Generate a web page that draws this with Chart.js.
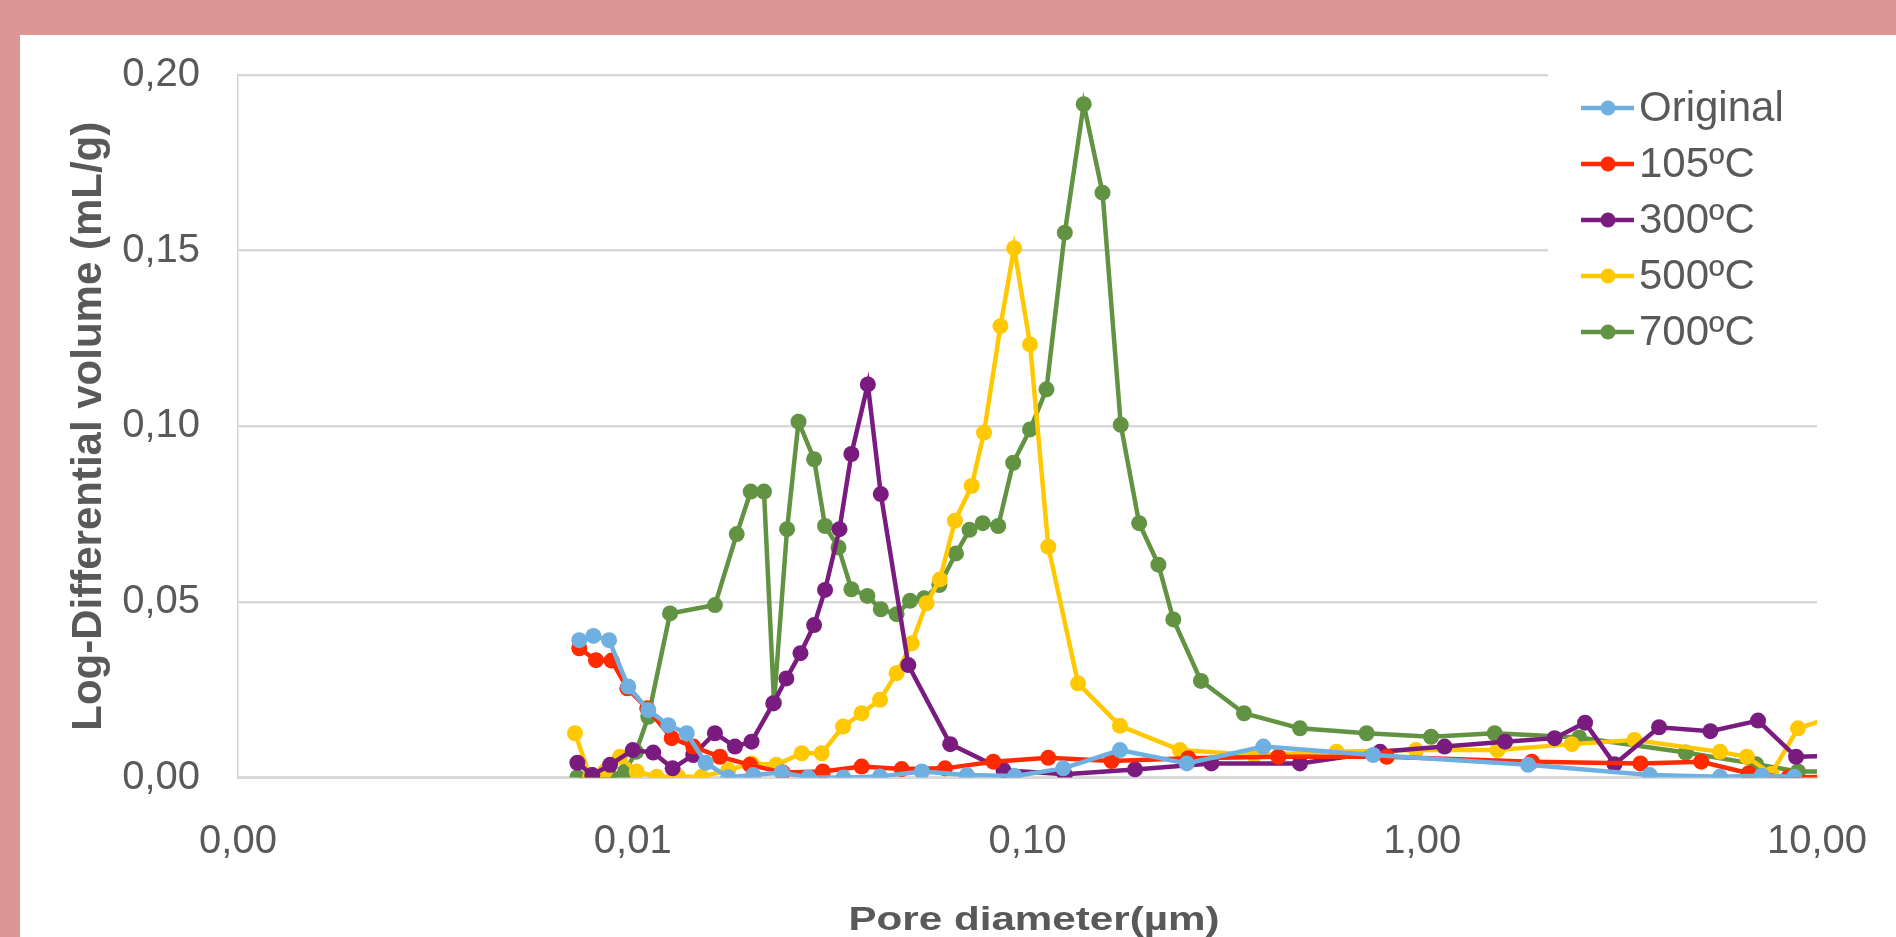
<!DOCTYPE html>
<html>
<head>
<meta charset="utf-8">
<title>Pore size distribution</title>
<script src="https://cdn.jsdelivr.net/npm/chart.js@4.4.1/dist/chart.umd.min.js"></script>
<style>
  html, body { margin: 0; padding: 0; background: #db9695; overflow: hidden; width: 1896px; height: 937px; }
  #panel { position: absolute; left: 20px; top: 35px; width: 1876px; height: 930px; background: #ffffff; }
  canvas { display: block; }
</style>
</head>
<body>
<div id="panel"><canvas id="chart" width="1876" height="930"></canvas></div>
<script>
// Series names and axis ticks
const seriesNames = ['Original', '105ºC', '300ºC', '500ºC', '700ºC'];
const xTickValues = [0.001, 0.01, 0.1, 1, 10];
const xTickLabels = ['0,00', '0,01', '0,10', '1,00', '10,00'];
const yTickValues = [0, 0.05, 0.10, 0.15, 0.20];
const yTickLabels = ['0,00', '0,05', '0,10', '0,15', '0,20'];
const xTitle = 'Pore diameter(µm)';
const yTitle = 'Log-Differential volume (mL/g)';

// Pore diameter (µm) and log-differential intrusion volume (mL/g) per sample
const originalD = [0.00732, 0.00795, 0.00871, 0.00974, 0.01095, 0.0123, 0.0137, 0.0153, 0.01746, 0.0202, 0.02384, 0.02784, 0.03415, 0.04229, 0.0540, 0.0702, 0.0929, 0.1232, 0.1715, 0.2532, 0.3958, 0.751, 1.854, 3.77, 5.68, 7.25, 8.76];
const originalV = [0.0391, 0.0403, 0.0391, 0.0259, 0.0192, 0.0149, 0.0126, 0.0042, 0.0001, 0.0007, 0.0014, 0.0000, 0.0000, 0.0003, 0.0017, 0.0007, 0.0004, 0.0026, 0.0078, 0.0040, 0.0088, 0.0064, 0.0036, 0.0007, 0.0002, 0.0005, 0.0002];

const c105D = [0.00732, 0.00807, 0.00884, 0.00969, 0.01088, 0.01255, 0.01423, 0.01663, 0.01982, 0.0240, 0.0303, 0.0380, 0.048, 0.0618, 0.0819, 0.1129, 0.1633, 0.2555, 0.432, 0.813, 1.895, 3.57, 5.09, 6.71, 8.46, 11.5];
const c105V = [0.0368, 0.0334, 0.0333, 0.0254, 0.0197, 0.0112, 0.0088, 0.0059, 0.0036, 0.0014, 0.0017, 0.0031, 0.0024, 0.0026, 0.0045, 0.0056, 0.0047, 0.0055, 0.0059, 0.0059, 0.0045, 0.0040, 0.0045, 0.0012, 0.0000, 0.0003];

const c300D = [0.00724, 0.0079, 0.00876, 0.0100, 0.01127, 0.01262, 0.01423, 0.01615, 0.01815, 0.0200, 0.0227, 0.0245, 0.0266, 0.0288, 0.0307, 0.0334, 0.0358, 0.0394, 0.0425, 0.0499, 0.0637, 0.0869, 0.1243, 0.1872, 0.2924, 0.49, 0.782, 1.139, 1.621, 2.164, 2.585, 3.07, 3.98, 5.37, 7.09, 8.85, 11.0];
const c300V = [0.0042, 0.0007, 0.0036, 0.0078, 0.0071, 0.0026, 0.0064, 0.0126, 0.0088, 0.0102, 0.0211, 0.0282, 0.0354, 0.0434, 0.0534, 0.0707, 0.0921, 0.1119, 0.0807, 0.0320, 0.0095, 0.0021, 0.0009, 0.0023, 0.0040, 0.0040, 0.0073, 0.0088, 0.0102, 0.0112, 0.0156, 0.0038, 0.0143, 0.0132, 0.0162, 0.0059, 0.0062];

const c500D = [0.00714, 0.0078, 0.0085, 0.00929, 0.01023, 0.0115, 0.01304, 0.01495, 0.01746, 0.0200, 0.0231, 0.0268, 0.0301, 0.0341, 0.0380, 0.0423, 0.0466, 0.0509, 0.0555, 0.060, 0.0655, 0.0722, 0.0776, 0.0854, 0.0925, 0.1015, 0.1129, 0.1343, 0.1715, 0.2434, 0.3749, 0.6066, 0.964, 1.551, 2.393, 3.45, 5.68, 6.64, 7.66, 8.95, 11.5];
const c500V = [0.0126, 0.0002, 0.0017, 0.0059, 0.0017, 0.0002, 0.0002, 0.0002, 0.0021, 0.0040, 0.0036, 0.0069, 0.0069, 0.0145, 0.0183, 0.0221, 0.0297, 0.0382, 0.0496, 0.0564, 0.0731, 0.0830, 0.0982, 0.1285, 0.1507, 0.1233, 0.0657, 0.0268, 0.0147, 0.0078, 0.0064, 0.0073, 0.0078, 0.0078, 0.0095, 0.0107, 0.0073, 0.0059, 0.0010, 0.0140, 0.0180];

const c700D = [0.00724, 0.00787, 0.00834, 0.00884, 0.00956, 0.01019, 0.01095, 0.01243, 0.01615, 0.01834, 0.0199, 0.0215, 0.0228, 0.0246, 0.0263, 0.0288, 0.0307, 0.0332, 0.0358, 0.0393, 0.0425, 0.0466, 0.0504, 0.0547, 0.0598, 0.0659, 0.0713, 0.0770, 0.0843, 0.0920, 0.1015, 0.1117, 0.1243, 0.1388, 0.1549, 0.1723, 0.1918, 0.2146, 0.2341, 0.2750, 0.3535, 0.490, 0.723, 1.053, 1.526, 2.498, 4.65, 7.01, 8.95, 11.5];
const c700V = [0.0001, 0.0007, 0.0000, 0.0000, 0.0017, 0.0073, 0.0173, 0.0467, 0.0491, 0.0693, 0.0814, 0.0814, 0.0213, 0.0707, 0.1013, 0.0906, 0.0716, 0.0655, 0.0536, 0.0517, 0.0479, 0.0465, 0.0503, 0.0510, 0.0548, 0.0638, 0.0705, 0.0724, 0.0716, 0.0896, 0.0991, 0.1105, 0.1551, 0.1917, 0.1665, 0.1004, 0.0724, 0.0606, 0.0450, 0.0275, 0.0183, 0.0140, 0.0126, 0.0116, 0.0126, 0.0114, 0.0071, 0.0038, 0.0017, 0.0017];

const seriesD = [originalD, c105D, c300D, c500D, c700D];
const seriesV = [originalV, c105V, c300V, c500V, c700V];
const seriesColors = ['#6fb0e0', '#ff2a00', '#7a1b7f', '#ffc800', '#619342'];

const TEXT = '#595959';
const FONT = '"Liberation Sans", Arial, Helvetica, sans-serif';

const datasets = seriesNames.map((name, i) => ({
  label: name,
  data: seriesD[i].map((d, j) => ({ x: d, y: seriesV[i][j] })),
  borderColor: seriesColors[i],
  backgroundColor: seriesColors[i],
  pointBackgroundColor: seriesColors[i],
  pointBorderColor: seriesColors[i],
  borderWidth: 4.5,
  pointRadius: 8,
  pointBorderWidth: 0,
  tension: 0
}));

// Legend drawn on a white box inside the plot area, top right
const insideLegend = {
  id: 'insideLegend',
  afterDatasetsDraw(chart) {
    const ctx = chart.ctx;
    ctx.save();
    ctx.fillStyle = '#ffffff';
    ctx.fillRect(1528, 28, 272, 330);
    chart.data.datasets.forEach((ds, i) => {
      const y = 73 + i * 56;
      ctx.strokeStyle = ds.borderColor;
      ctx.lineWidth = 4.5;
      ctx.beginPath();
      ctx.moveTo(1561, y);
      ctx.lineTo(1614, y);
      ctx.stroke();
      ctx.fillStyle = ds.backgroundColor;
      ctx.beginPath();
      ctx.arc(1588, y, 7.5, 0, Math.PI * 2);
      ctx.fill();
      ctx.fillStyle = TEXT;
      ctx.font = '42px ' + FONT;
      ctx.textAlign = 'left';
      ctx.textBaseline = 'middle';
      ctx.fillText(ds.label, 1619, y + 1);
    });
    ctx.restore();
  }
};

// Axis titles
const axisTitles = {
  id: 'axisTitles',
  afterDraw(chart) {
    const ctx = chart.ctx;
    const area = chart.chartArea;
    ctx.save();
    ctx.fillStyle = TEXT;
    ctx.textAlign = 'center';
    ctx.textBaseline = 'alphabetic';
    // vertical title, centred on the plot height
    ctx.save();
    ctx.translate(80.5, (area.top + area.bottom) / 2);
    ctx.rotate(-Math.PI / 2);
    ctx.font = 'bold 42px ' + FONT;
    ctx.fillText(yTitle, 0, 0);
    ctx.restore();
    // horizontal title under the tick labels
    ctx.save();
    ctx.translate(1014, 895);
    ctx.scale(1.24, 1);
    ctx.font = 'bold 34px ' + FONT;
    ctx.fillText(xTitle, 0, 0);
    ctx.restore();
    ctx.restore();
  }
};

new Chart(document.getElementById('chart'), {
  type: 'line',
  data: { datasets },
  plugins: [insideLegend, axisTitles],
  options: {
    responsive: false,
    animation: false,
    devicePixelRatio: 1,
    layout: { padding: { top: 40, right: 79, left: 0, bottom: 0 } },
    plugins: { legend: { display: false }, tooltip: { enabled: false } },
    scales: {
      x: {
        type: 'logarithmic',
        min: 0.001,
        max: 10,
        afterBuildTicks(scale) { scale.ticks = xTickValues.map(v => ({ value: v })); },
        afterFit(scale) {
          scale.height = 930 - 742.5;
          scale.paddingLeft = 0;
          scale.paddingRight = 0;
        },
        ticks: {
          autoSkip: false,
          maxRotation: 0,
          padding: 40,
          color: TEXT,
          font: { family: FONT, size: 40 },
          callback: (v, i) => xTickLabels[i]
        },
        grid: { display: false, drawTicks: false },
        border: { display: true, color: '#d9d9d9', width: 3 }
      },
      y: {
        min: 0,
        max: 0.2,
        afterBuildTicks(scale) { scale.ticks = yTickValues.map(v => ({ value: v })); },
        afterFit(scale) {
          scale.width = 218;
          scale.paddingTop = 0;
          scale.paddingBottom = 0;
        },
        ticks: {
          padding: 38,
          color: TEXT,
          font: { family: FONT, size: 40 },
          callback: (v, i) => yTickLabels[i]
        },
        grid: { color: '#d9d9d9', lineWidth: 2.5, drawTicks: false },
        border: { display: true, color: '#d4d4d4', width: 1.5 }
      }
    }
  }
});
</script>
</body>
</html>
